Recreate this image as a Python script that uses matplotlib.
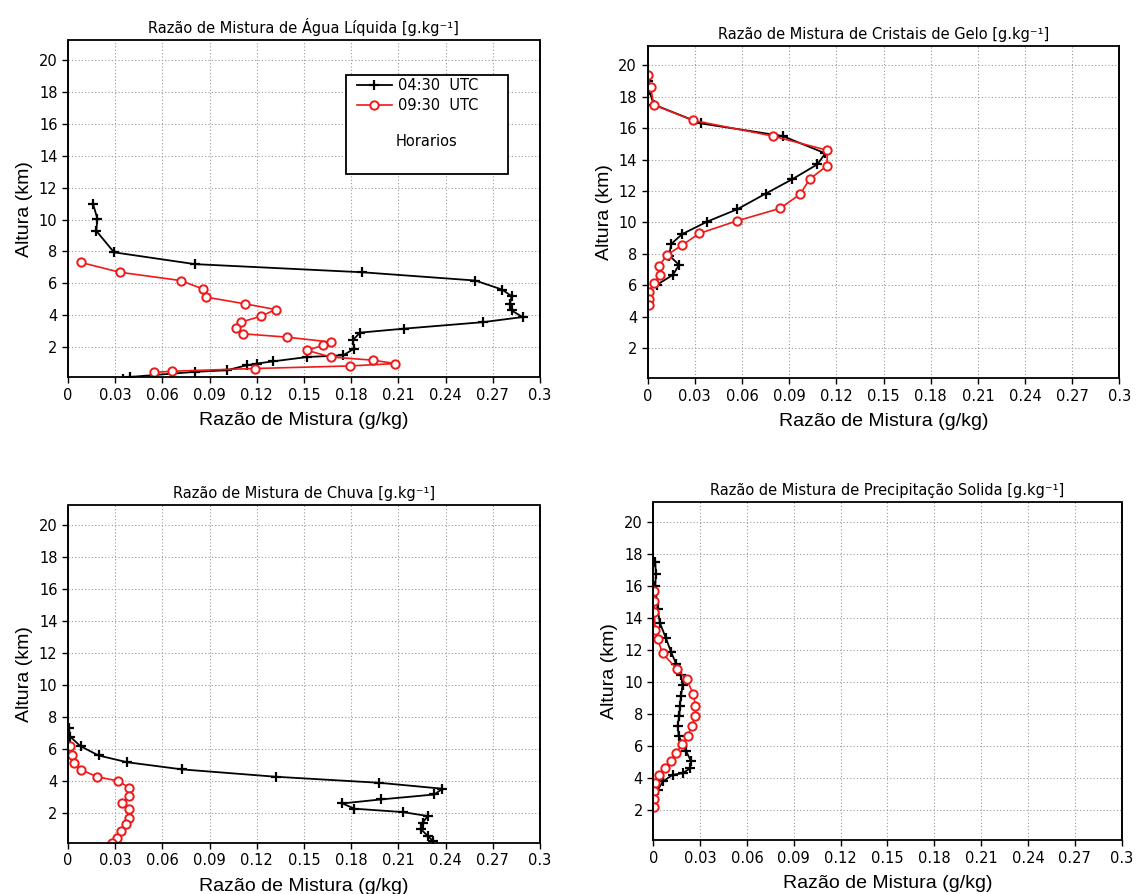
import matplotlib
matplotlib.use("Agg")
import matplotlib.pyplot as plt
from matplotlib.patches import Rectangle

# --- dados (x em g/kg, z em km) ---
liq_0430_x = [0.016, 0.0187, 0.018, 0.0293, 0.0807, 0.187, 0.259, 0.276, 0.282, 0.281, 0.282, 0.289,
              0.264, 0.2136, 0.1856, 0.181, 0.182, 0.175, 0.152, 0.1305, 0.12, 0.1136, 0.1009, 0.0807,
              0.0394, 0.035]
liq_0430_z = [10.96, 10.06, 9.29, 7.94, 7.2, 6.69, 6.17, 5.6, 5.19, 4.71, 4.29, 3.88,
              3.56, 3.15, 2.9, 2.42, 1.9, 1.48, 1.37, 1.1, 0.96, 0.85, 0.54, 0.44,
              0.12, 0.02]
liq_0930_x = [0.008, 0.033, 0.0716, 0.0856, 0.0877, 0.1125, 0.132, 0.123, 0.110, 0.107, 0.111, 0.139,
              0.167, 0.162, 0.152, 0.167, 0.194, 0.208, 0.179, 0.119, 0.066, 0.055]
liq_0930_z = [7.31, 6.69, 6.17, 5.65, 5.13, 4.71, 4.35, 3.94, 3.56, 3.21, 2.83, 2.62,
              2.31, 2.1, 1.79, 1.375, 1.17, 0.96, 0.81, 0.65, 0.48, 0.4]

gelo_0430_x = [0.0, 0.001, 0.004, 0.034, 0.0858, 0.113, 0.108, 0.092, 0.075, 0.057, 0.038, 0.022,
               0.015, 0.0138, 0.020, 0.0163, 0.006]
gelo_0430_z = [19.0, 18.4, 17.5, 16.3, 15.5, 14.4, 13.7, 12.75, 11.83, 10.84, 10.06, 9.26,
               8.63, 7.9, 7.31, 6.68, 6.04]
gelo_0930_x = [0.0, 0.002, 0.004, 0.0286, 0.0795, 0.1144, 0.114, 0.103, 0.097, 0.0843, 0.0568, 0.0328,
               0.0222, 0.0127, 0.0074, 0.008, 0.004, 0.001, 0.001, 0.001]
gelo_0930_z = [19.36, 18.6, 17.48, 16.5, 15.5, 14.59, 13.6, 12.75, 11.8, 10.9, 10.1, 9.3,
               8.57, 7.96, 7.26, 6.63, 6.15, 5.58, 5.16, 4.74]

chuva_0430_x = [0.0005, 0.0015, 0.008, 0.0195, 0.0375, 0.0725, 0.132, 0.198, 0.238, 0.233, 0.199,
                0.1745, 0.182, 0.2127, 0.2287, 0.2255, 0.2245, 0.2287, 0.232]
chuva_0430_z = [7.31, 6.75, 6.16, 5.58, 5.16, 4.71, 4.25, 3.87, 3.5, 3.14, 2.83,
                2.58, 2.25, 2.04, 1.79, 1.38, 0.96, 0.54, 0.23]
chuva_0930_x = [0.0015, 0.0025, 0.0036, 0.008, 0.0185, 0.032, 0.039, 0.0387, 0.0344, 0.0387, 0.0387,
                0.0366, 0.034, 0.031, 0.028]
chuva_0930_z = [6.2, 5.64, 5.12, 4.7, 4.25, 3.98, 3.56, 3.04, 2.58, 2.2, 1.69,
                1.27, 0.85, 0.44, 0.12]

sol_0430_x = [0.0013, 0.0017, 0.0013, 0.0028, 0.0043, 0.0082, 0.0114, 0.0146, 0.0178, 0.0188, 0.0178,
              0.0171, 0.0167, 0.0156, 0.0163, 0.021, 0.0242, 0.0235, 0.0188, 0.0124, 0.0064, 0.0028]
sol_0430_z = [17.54, 16.74, 16.0, 14.6, 13.7, 12.74, 11.9, 11.16, 10.43, 9.8, 9.16,
              8.53, 7.9, 7.27, 6.64, 5.69, 5.06, 4.6, 4.3, 4.2, 3.8, 3.26]
sol_0930_x = [0.0006, 0.0006, 0.0006, 0.0013, 0.0028, 0.006, 0.015, 0.0214, 0.0257, 0.027, 0.027,
              0.0249, 0.022, 0.0184, 0.0146, 0.0114, 0.0077, 0.0039, 0.0013, 0.0006, 0.0006, 0.0006]
sol_0930_z = [15.7, 15.1, 14.42, 13.27, 12.7, 11.8, 10.84, 10.17, 9.26, 8.53, 7.9,
              7.27, 6.64, 6.1, 5.58, 5.06, 4.63, 4.21, 3.69, 3.2, 2.7, 2.2]

titulos = ["Razão de Mistura de Água Líquida [g.kg⁻¹]",
           "Razão de Mistura de Cristais de Gelo [g.kg⁻¹]",
           "Razão de Mistura de Chuva [g.kg⁻¹]",
           "Razão de Mistura de Precipitação Solida [g.kg⁻¹]"]
xticks = [0, 0.03, 0.06, 0.09, 0.12, 0.15, 0.18, 0.21, 0.24, 0.27, 0.3]
xticklabels = ["0", "0.03", "0.06", "0.09", "0.12", "0.15", "0.18", "0.21", "0.24", "0.27", "0.3"]
yticks = [2, 4, 6, 8, 10, 12, 14, 16, 18, 20]

paineis = [
    (liq_0430_x, liq_0430_z, liq_0930_x, liq_0930_z),
    (gelo_0430_x, gelo_0430_z, gelo_0930_x, gelo_0930_z),
    (chuva_0430_x, chuva_0430_z, chuva_0930_x, chuva_0930_z),
    (sol_0430_x, sol_0430_z, sol_0930_x, sol_0930_z),
]
posicoes = [
    [0.0596, 0.578, 0.414, 0.377],
    [0.568, 0.577, 0.414, 0.372],
    [0.0596, 0.057, 0.414, 0.378],
    [0.573, 0.060, 0.411, 0.378],
]

fig = plt.figure(figsize=(11.4, 8.94), dpi=100)
red = "#f01818"

for i, (bx, bz, rx, rz) in enumerate(paineis):
    ax = fig.add_axes(posicoes[i])
    l1, = ax.plot(bx, bz, color="black", lw=1.3, marker="+", ms=7, mew=1.6, label="04:30  UTC")
    l2, = ax.plot(rx, rz, color=red, lw=1.2, marker="o", ms=6, mew=1.4, mfc="white", mec=red,
                  label="09:30  UTC")
    ax.set_xlim(0, 0.3)
    ax.set_ylim(0.1, 21.25)
    ax.set_xticks(xticks)
    ax.set_xticklabels(xticklabels)
    ax.set_yticks(yticks)
    ax.tick_params(direction="out", length=4, width=1, labelsize=10.5)
    ax.grid(True, color="#9a9a9a", linestyle=(0, (1, 2)), lw=0.8)
    for s in ("left", "right"):
        ax.spines[s].set_linestyle((0, (1, 1)))
        ax.spines[s].set_linewidth(1.4)
    for s in ("top", "bottom"):
        ax.spines[s].set_linewidth(1.3)
    ax.set_title(titulos[i], fontsize=10.5, pad=5)
    ax.set_xlabel("Razão de Mistura (g/kg)", fontsize=14, family="Liberation Sans", labelpad=7)
    ax.set_ylabel("Altura (km)", fontsize=14, family="Liberation Sans", labelpad=4)

    if i == 0:
        ax.add_patch(Rectangle((0.589, 0.604), 0.343, 0.292, transform=ax.transAxes,
                               facecolor="white", edgecolor="black", lw=1.3, zorder=5))
        leg = ax.legend(handles=[l1, l2], loc="upper left", bbox_to_anchor=(0.6, 0.905),
                        frameon=False, fontsize=10.5, handlelength=2.4, labelspacing=0.35,
                        handletextpad=0.4, borderaxespad=0)
        leg.set_zorder(6)
        ax.text(0.76, 0.70, "Horarios", transform=ax.transAxes, ha="center", va="center",
                fontsize=10.5, zorder=7)

fig.savefig("out.png", dpi=100)
